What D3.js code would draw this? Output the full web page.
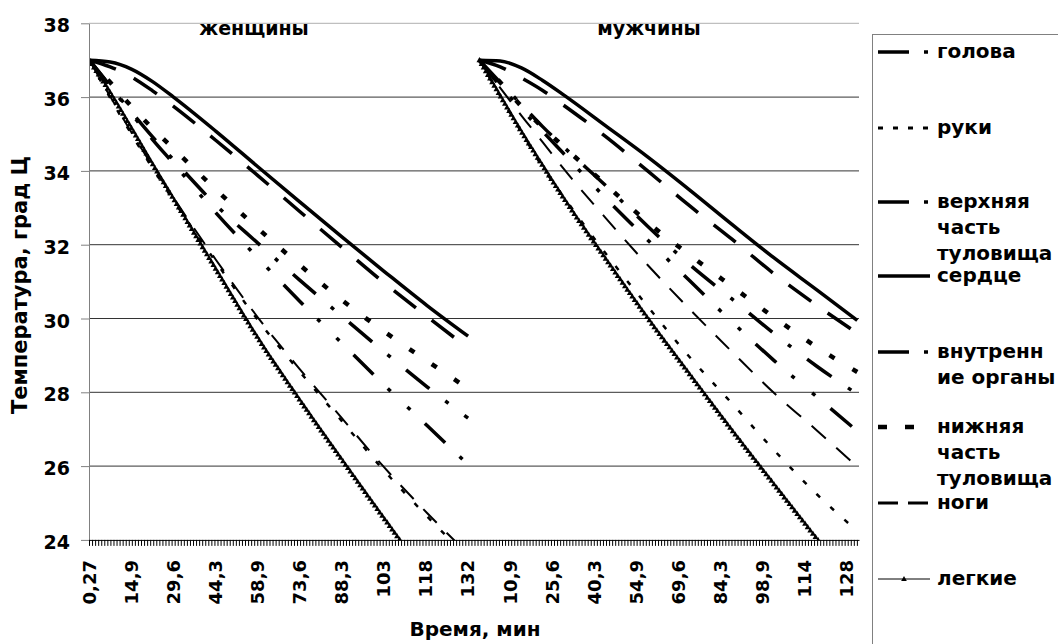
<!DOCTYPE html>
<html>
<head>
<meta charset="utf-8">
<script src="https://cdn.jsdelivr.net/npm/d3@7"></script>
<style>
  body { margin: 0; background: #fff; }
  text { font-family: "DejaVu Sans", sans-serif; font-weight: bold; fill: #000; }
</style>
</head>
<body>
<svg id="chart" width="1058" height="644"></svg>
<script>
const times1 = [0.27, 7.5, 14.9, 22.3, 29.6, 44.3, 58.9, 73.6, 88.3, 103, 118, 132.3]
const times2 = [0.27, 7.5, 14.9, 22.3, 29.6, 44.3, 58.9, 73.6, 88.3, 103, 118, 132]

// женщины
const golovaW  = [37, 36.82, 36.55, 36.17, 35.75, 34.83, 33.88, 32.9, 31.93, 30.97, 30.05, 29.2]
const rukiW    = [37, 35.98, 35.0, 34.07, 33.2, 31.54, 29.97, 28.56, 27.22, 25.88, 24.64, 23.52]
const verhW    = [37, 36.3, 35.55, 34.85, 34.2, 32.87, 31.65, 30.47, 29.33, 28.2, 27.1, 26.04]
const serdceW  = [37, 36.95, 36.76, 36.42, 36.0, 35.08, 34.12, 33.16, 32.21, 31.28, 30.35, 29.52]
const vnutrW   = [37, 36.3, 35.6, 34.92, 34.3, 33.08, 32.05, 31.04, 30.06, 29.1, 28.15, 27.3]
const nizhW    = [37, 36.4, 35.75, 35.15, 34.6, 33.5, 32.45, 31.45, 30.5, 29.65, 28.85, 28.1]
const nogiW    = [37, 36.02, 35.05, 34.13, 33.27, 31.6, 30.04, 28.63, 27.3, 25.97, 24.73, 23.62]
const legkieW  = [37, 36.13, 35.17, 34.19, 33.25, 31.35, 29.49, 27.8, 26.18, 24.59, 23.0, 21.5]

// мужчины
const golovaM  = [37, 36.82, 36.52, 36.18, 35.78, 34.93, 34.0, 33.05, 32.15, 31.21, 30.35, 29.6]
const rukiM    = [37, 36.03, 35.05, 34.1, 33.3, 31.76, 30.33, 28.95, 27.7, 26.43, 25.23, 24.24]
const verhM    = [37, 36.3, 35.67, 35.07, 34.47, 33.26, 32.13, 31.02, 29.91, 28.86, 27.87, 26.95]
const serdceM  = [37, 36.98, 36.79, 36.45, 36.06, 35.22, 34.38, 33.48, 32.55, 31.64, 30.77, 29.95]
const vnutrM   = [37, 36.4, 35.8, 35.2, 34.65, 33.6, 32.5, 31.46, 30.53, 29.59, 28.7, 27.95]
const nizhM    = [37, 36.4, 35.75, 35.18, 34.66, 33.63, 32.61, 31.72, 30.87, 30.03, 29.22, 28.55]
const nogiM    = [37, 36.25, 35.5, 34.78, 34.06, 32.72, 31.45, 30.25, 29.1, 27.98, 26.96, 25.98]
const legkieM  = [37, 36.04, 35.07, 34.15, 33.27, 31.62, 30.02, 28.49, 26.98, 25.51, 24.03, 22.7]

const seriesNames = ["голова", "руки", "верхняя часть туловища", "сердце", "внутренние органы", "нижняя часть туловища", "ноги", "легкие"]
const womenValues = [golovaW, rukiW, verhW, serdceW, vnutrW, nizhW, nogiW, legkieW]
const menValues   = [golovaM, rukiM, verhM, serdceM, vnutrM, nizhM, nogiM, legkieM]

// category labels on the time axis
const tickLabels1 = ["0,27", "14,9", "29,6", "44,3", "58,9", "73,6", "88,3", "103", "118", "132"]
const tickTimes1  = [0.27, 14.93, 29.6, 44.27, 58.93, 73.6, 88.27, 102.93, 117.6, 132.27]
const tickLabels2 = ["10,9", "25,6", "40,3", "54,9", "69,6", "84,3", "98,9", "114", "128"]
const tickTimes2  = [10.93, 25.6, 40.27, 54.93, 69.6, 84.27, 98.93, 113.6, 128.27]
const panelShift = 136   // men's block starts after 136 min of women's categories
const yTicks = [24, 26, 28, 30, 32, 34, 36, 38]

const legendLabels = [["голова"], ["руки"], ["верхняя", "часть", "туловища"], ["сердце"],
  ["внутренн", "ие органы"], ["нижняя", "часть", "туловища"], ["ноги"], ["легкие"]]

// line look for each series (chart and legend sample)
const styles = [
  { w: 3.5, dash: "28,20",              legDash: "31,15,4,40" },
  { w: 2.5, dash: "5,14",               legDash: "5,10" },
  { w: 3.5, dash: "28,20,4,23,4,20",    legDash: "31,15,4,40" },
  { w: 3.5, dash: null,                 legDash: null },
  { w: 3.5, dash: "30,20,4,20",         legDash: "31,15,4,40" },
  { w: 4.5, dash: "6,21",               legDash: "9,18" },
  { w: 2,   dash: "19,14",              legDash: "20,10" },
  { w: 1,   dash: null,                 legDash: null, marker: true }
]
const legendY = [52, 128, 202, 276, 352, 427, 503, 579]

const svg = d3.select("#chart")

const x = d3.scaleLinear().domain([0.13, 268.6]).range([89, 859])
const y = d3.scaleLinear().domain([24, 38]).range([539.9, 23.3])

// horizontal gridlines
svg.append("g").selectAll("line")
  .data(yTicks.filter(d => d > 24))
  .join("line")
  .attr("x1", x(0.13)).attr("x2", x(268.6))
  .attr("y1", d => y(d)).attr("y2", d => y(d))
  .attr("stroke", d => d === 38 ? "#b0b0b0" : "#333").attr("stroke-width", 1)

// panel titles
svg.append("text").attr("x", 254).attr("y", 35).attr("text-anchor", "middle")
  .style("font-size", "19px").text("женщины")
svg.append("text").attr("x", 649).attr("y", 35).attr("text-anchor", "middle")
  .style("font-size", "19px").text("мужчины")

svg.append("clipPath").attr("id", "plotClip")
  .append("rect").attr("x", x(0.13)).attr("y", 15)
  .attr("width", x(268.6) - x(0.13)).attr("height", y(24) - 15)

const plot = svg.append("g").attr("clip-path", "url(#plotClip)")

function triangle(g, px, py, s) {
  g.append("path")
    .attr("d", `M${px},${py - s}L${px + s * 0.95},${py + s * 0.7}L${px - s * 0.95},${py + s * 0.7}Z`)
    .attr("fill", "#000")
}

// one path per series per panel
function drawSeries(times, shift, values, st) {
  let pts = times.map((t, i) => ({ t: t, v: values[i] }))
  let line = d3.line()
    .x(d => x(d.t + shift))
    .y(d => y(d.v))
    .curve(d3.curveMonotoneX)

  let p = plot.append("path")
    .attr("d", line(pts))
    .attr("fill", "none")
    .attr("stroke", "#000")
    .attr("stroke-width", st.w)
    .attr("stroke-dasharray", st.dash)

  if (st.marker) {
    // triangle markers sit close together along the line
    let node = p.node(), len = node.getTotalLength()
    for (let l = 0; l <= len; l += 4.2) {
      let pt = node.getPointAtLength(l)
      triangle(plot, pt.x, pt.y, 3.1)
    }
  }
}

seriesNames.forEach(function(name, i) {
  drawSeries(times1, 0, womenValues[i], styles[i])
  drawSeries(times2, panelShift, menValues[i], styles[i])
})

// y axis
const yAxis = svg.append("g")
  .attr("transform", "translate(" + x(0.13) + ",0)")
  .call(d3.axisLeft(y).tickValues(yTicks).tickSize(8).tickSizeOuter(0).tickPadding(11))
yAxis.select(".domain").attr("stroke", "#808080")
yAxis.selectAll(".tick line").attr("stroke", "#808080")
yAxis.selectAll(".tick text")
  .attr("dy", "0.45em")
  .style("font-family", "DejaVu Sans").style("font-weight", "bold")
  .style("font-size", "19px").attr("fill", "#000")

// x axis: dense tick marks every 4 categories
const minorTicks = d3.range(0.13, 268.7, 16 / 15)
const xAxis = svg.append("g")
  .attr("transform", "translate(0," + y(24) + ")")
  .call(d3.axisBottom(x).tickValues(minorTicks).tickSize(6).tickSizeOuter(0).tickFormat(""))
xAxis.select(".domain").attr("stroke", "#000")
xAxis.selectAll(".tick line").attr("stroke", "#000")

const labelData = tickLabels1.map((l, i) => ({ label: l, u: tickTimes1[i] }))
  .concat(tickLabels2.map((l, i) => ({ label: l, u: tickTimes2[i] + panelShift })))

svg.append("g").selectAll("text")
  .data(labelData)
  .join("text")
  .attr("transform", d => "translate(" + (x(d.u) + 6.5) + ",560) rotate(-90)")
  .attr("text-anchor", "end")
  .style("font-size", "18px")
  .text(d => d.label)

// axis titles
svg.append("text").attr("x", 475).attr("y", 636).attr("text-anchor", "middle")
  .style("font-size", "20px").text("Время, мин")
svg.append("text").attr("transform", "translate(27,285) rotate(-90)")
  .attr("text-anchor", "middle").style("font-size", "21px").text("Температура, град Ц")

// legend
const legend = svg.append("g")
legend.append("rect").attr("x", 872.5).attr("y", 34.5).attr("width", 200).attr("height", 620)
  .attr("fill", "none").attr("stroke", "#808080")

legendLabels.forEach(function(lines, i) {
  let st = styles[i], ly = legendY[i]
  legend.append("line")
    .attr("x1", 878).attr("x2", 930).attr("y1", ly).attr("y2", ly)
    .attr("stroke", "#000")
    .attr("stroke-width", st.marker ? 1 : Math.max(st.w, 3))
    .attr("stroke-dasharray", st.legDash)
  if (st.marker) triangle(legend, 904, ly, 3)
  legend.append("text")
    .attr("x", 937).attr("y", ly + 6)
    .style("font-size", "20px")
    .selectAll("tspan").data(lines).join("tspan")
    .attr("x", 937).attr("dy", (d, j) => j === 0 ? 0 : 26)
    .text(d => d)
})
</script>
</body>
</html>
